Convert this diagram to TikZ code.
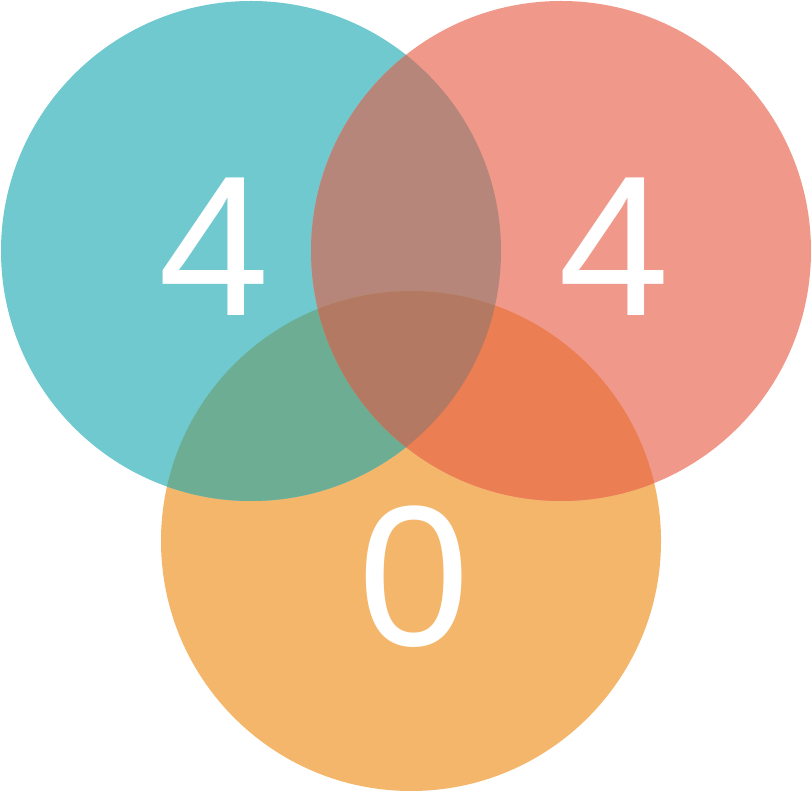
\documentclass[tikz,border=0pt]{standalone}
\usepackage{fontspec}
\setmainfont{Liberation Sans}
\definecolor{cteal}{RGB}{111,201,207}
\definecolor{csalmon}{RGB}{240,153,139}
\definecolor{corange}{RGB}{244,182,106}
\definecolor{cts}{RGB}{183,134,123}
\definecolor{cto}{RGB}{109,173,148}
\definecolor{cso}{RGB}{236,126,84}
\definecolor{call}{RGB}{179,121,98}
\begin{document}
\begin{tikzpicture}[x=1pt,y=-1pt,
  digit/.style={text=white,font=\fontsize{200}{200}\selectfont,inner sep=0pt}]
\useasboundingbox (0,0) rectangle (811,791);
\def\T{(251,251) circle[radius=250]}
\def\S{(561,251) circle[radius=250]}
\def\O{(411,541) circle[radius=250]}
\fill[corange] \O;
\fill[cteal] \T;
\fill[csalmon] \S;
\begin{scope}\clip \T; \fill[cts] \S; \end{scope}
\begin{scope}\clip \T; \fill[cto] \O; \end{scope}
\begin{scope}\clip \S; \fill[cso] \O; \end{scope}
\begin{scope}\clip \T; \clip \S; \fill[call] \O; \end{scope}
\node[digit] (a) at (214,247) {4};
\node[digit] (b) at (614,247) {4};
\node[digit] (c) at (414,577) {0};
\end{tikzpicture}
\end{document}
